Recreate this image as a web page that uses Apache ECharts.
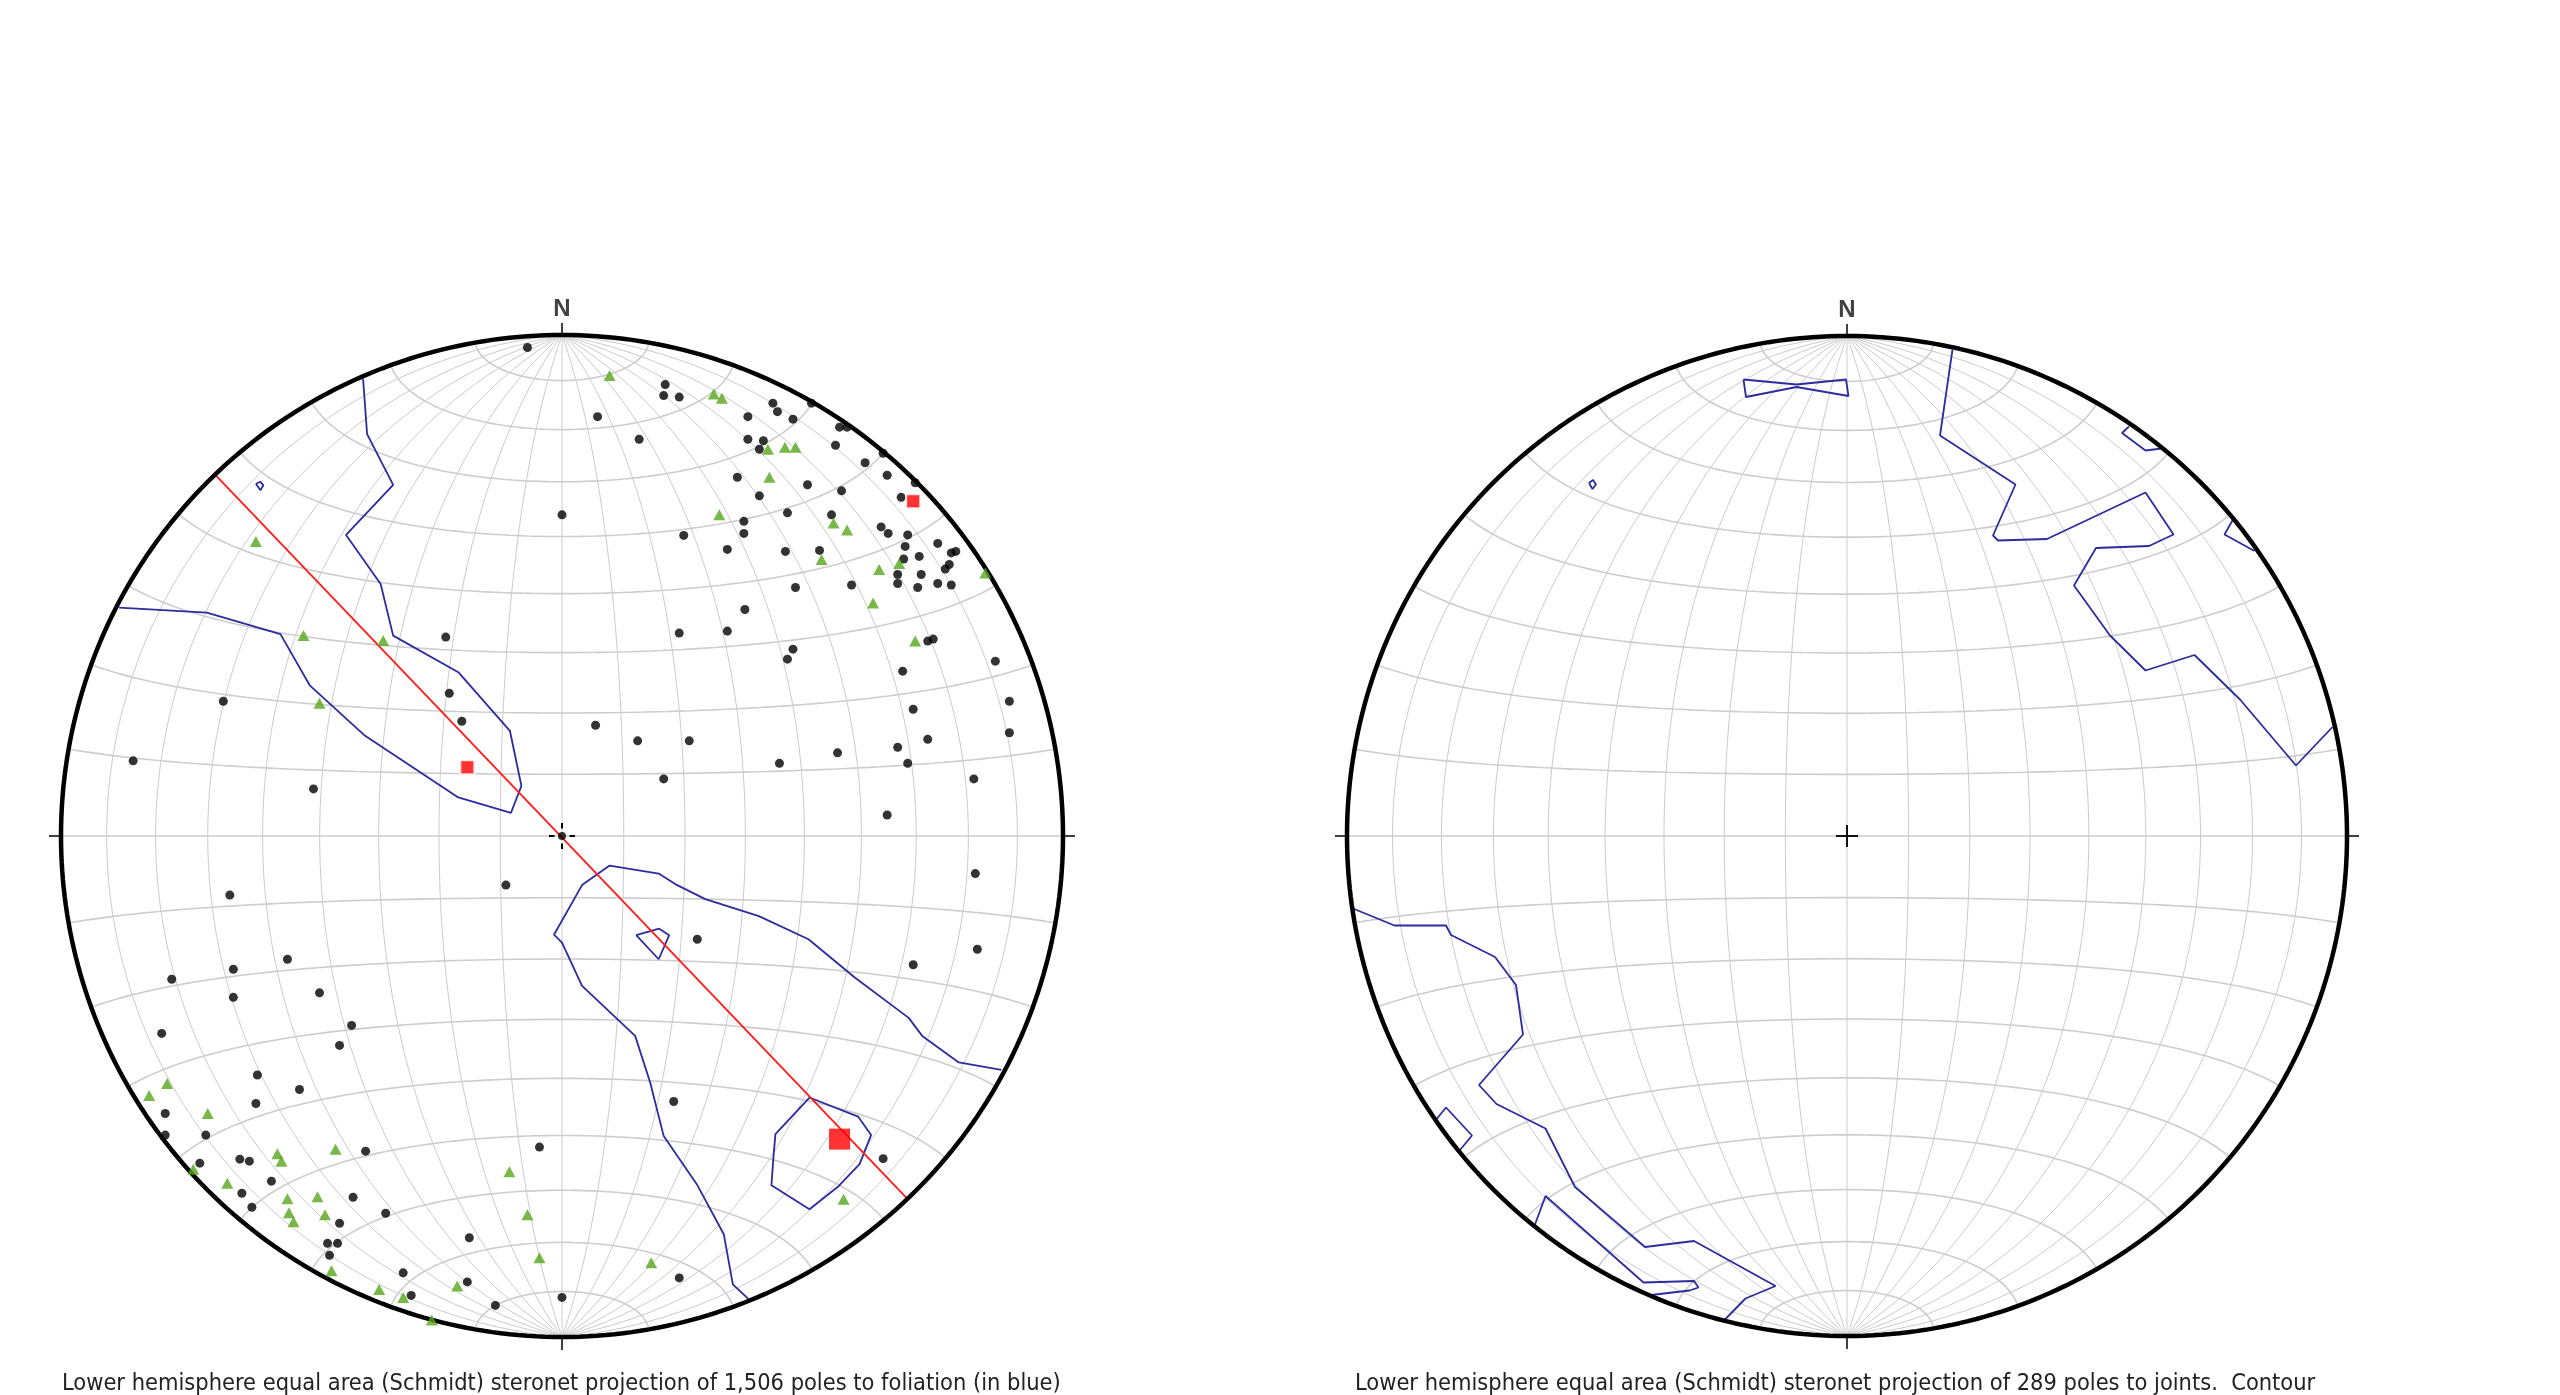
<!DOCTYPE html>
<html>
<head>
<meta charset="utf-8">
<title>Stereonets</title>
<script src="https://cdn.jsdelivr.net/npm/echarts@6/dist/echarts.min.js"></script>
<style>
html,body{margin:0;padding:0;background:#fff;}
#main{width:2560px;height:1395px;}
</style>
</head>
<body>
<div id="main"></div>
<script>
// all positions are net coordinates: primitive circle radius = 100, north up
const foliationPoles = [
  [-6.9,97.5],[0,64.1],[-23.2,39.7],[-22.5,28.5],[-20.0,22.9],[-67.6,26.9],[-85.6,15.0],[-49.6,9.4],
  [20.6,90.1],[20.3,87.9],[23.4,87.6],[7.1,83.7],[15.4,79.2],[42.1,86.4],[43.0,84.7],[49.8,86.4],
  [37.1,83.7],[46.1,83.2],[55.4,81.6],[56.9,81.6],[37.1,79.2],[40.2,78.9],[39.4,77.2],[54.6,78.0],
  [64.1,76.4],[60.5,74.5],[64.9,72.0],[70.5,70.5],[35.0,71.6],[49.0,70.1],[55.8,68.9],[39.4,67.9],
  [67.7,67.6],[45.0,64.5],[53.8,64.1],[36.3,62.8],[36.3,60.4],[63.7,61.7],[65.1,60.4],[24.3,60.0],
  [69.0,60.1],[75.0,58.4],[68.5,57.8],[77.7,56.5],[78.6,56.8],[33.0,57.2],[44.6,56.8],[51.4,57.0],
  [68.2,55.3],[71.3,55.8],[76.5,53.3],[77.3,54.2],[67.0,52.2],[71.7,52.2],[67.0,50.4],[71.0,49.6],
  [75.0,50.4],[77.7,50.1],[46.6,49.6],[57.8,50.1],[36.5,45.2],[23.4,40.5],[33.0,40.9],[46.1,37.3],
  [45.0,35.3],[73.0,38.9],[74.1,39.3],[68.0,32.9],[86.5,34.9],[70.1,25.3],[89.3,26.9],[89.3,20.6],
  [6.7,22.1],[15.1,19.0],[25.4,19.0],[55.0,16.6],[73.0,19.3],[67.0,17.7],[43.4,14.5],[69.0,14.5],
  [20.3,11.4],[82.2,11.4],[64.9,4.2],
  [-11.2,-9.8],[-66.3,-11.8],[-54.8,-24.6],[-65.6,-26.6],[-77.9,-28.6],[-65.6,-32.2],[-48.4,-31.3],
  [-42.0,-37.8],[-79.9,-39.4],[-44.4,-41.8],[-60.8,-47.7],[-52.4,-50.6],[-61.1,-53.4],[-79.2,-55.4],
  [-79.2,-59.7],[-71.1,-59.7],[-39.2,-62.9],[-4.5,-62.1],[-64.3,-64.5],[-62.4,-64.9],[-72.3,-65.3],
  [-58.0,-68.9],[-63.9,-71.3],[-61.9,-74.1],[-41.7,-72.1],[-35.2,-75.3],[-44.4,-77.3],[-46.8,-81.3],
  [-44.8,-81.3],[-46.4,-83.7],[-18.5,-80.2],[-31.7,-87.2],[-18.9,-89.0],[-30.1,-91.7],[-13.3,-93.7],
  [0,-92.1],
  [82.5,-7.5],[27.0,-20.6],[82.9,-22.6],[70.1,-25.7],[22.3,-53.0],[64.1,-64.4],[23.4,-88.2]
];

const lineations = [
  [-61.1,58.8],[-51.6,40.0],[-35.7,39.0],[-48.4,26.5],
  [9.5,91.9],[30.3,88.2],[31.9,87.4],[41.1,77.2],[44.5,77.6],[46.6,77.6],[41.4,71.6],[31.4,64.1],
  [54.2,62.5],[56.9,61.1],[51.8,55.2],[63.3,53.2],[67.3,54.4],[84.5,52.5],[62.1,46.5],[70.5,38.9],
  [-78.8,-49.4],[-82.4,-51.8],[-70.7,-55.4],[-73.6,-66.5],[-56.8,-63.4],[-56.0,-64.9],[-45.2,-62.5],
  [-66.8,-69.3],[-54.8,-72.4],[-48.8,-72.0],[-54.5,-75.2],[-53.6,-77.0],[-47.3,-75.6],[-10.5,-67.0],
  [-6.9,-75.6],[-4.5,-84.2],[-46.0,-86.8],[-36.5,-90.5],[-31.7,-92.1],[-20.9,-89.8],[-26.0,-96.6],
  [56.2,-72.5],[17.8,-85.2]
];

const smallMeans = [[-18.9,13.7],[70.1,66.8]];
const bigMeans = [[55.4,-60.5]];
const girdle = [[-69.1,72.0],[68.9,-72.4]];

const foliationContours = [
  [[-39.7,91.2],[-38.9,80.2],[-33.7,70.1],[-43.1,60.1],[-36.2,50.3],[-33.7,40.0],[-20.7,32.7],
   [-10.4,21.0],[-8.1,10.0],[-10.2,4.6],[-20.7,7.7],[-39.3,20.0],[-50.3,30.0],[-56.2,40.3],
   [-70.9,44.6],[-88.4,45.6]],
  [[87.7,-46.7],[79.2,-45.2],[71.9,-39.9],[69.2,-36.3],[58.5,-28.3],[49.2,-20.6],[39.3,-16.0],
   [28.6,-12.6],[22.6,-9.6],[19.3,-7.5],[9.5,-5.9],[4.0,-9.8],[-1.6,-19.7],[0,-21.3],[4.0,-29.9],
   [14.6,-39.9],[17.6,-49.2],[20.3,-59.9],[26.9,-69.5],[32.3,-79.5],[34.1,-89.5],[37.3,-92.5]],
  [[14.8,-19.8],[19.4,-18.5],[21.4,-19.8],[19.3,-24.6],[14.8,-19.8]],
  [[49.4,-52.2],[59.1,-56.0],[61.7,-59.7],[59.4,-65.5],[55.2,-69.9],[49.4,-74.5],[41.8,-69.7],
   [42.2,-64.2],[42.6,-59.5],[49.4,-52.2]],
  [[-61.1,70.3],[-60.2,70.7],[-59.6,70.0],[-60.2,69.0],[-61.1,70.3]]
];

const jointContours = [
  [[21.1,97.3],[18.6,80.1],[33.7,70.3],[29.2,60.1],[30.2,59.1],[40.0,59.4],[59.7,68.7],[65.3,60.3],
   [60.4,58.0],[49.8,57.6],[45.4,50.1],[52.6,40.1],[59.7,33.1],[69.5,36.2],[78.6,27.3],[89.8,14.1],
   [97.1,21.8]],
  [[-20.7,91.3],[-10.1,90.3],[-0.2,91.3],[0.3,88.0],[-10.1,89.8],[-20.2,87.8],[-20.7,91.3]],
  [[-51.6,70.6],[-50.8,71.2],[-50.2,70.3],[-50.9,69.4],[-51.6,70.6]],
  [[56.4,81.9],[55.0,80.6],[59.7,77.1],[62.9,77.5]],
  [[77.2,63.3],[75.5,60.3],[81.5,57.0]],
  [[-99.3,-14.3],[-90.5,-17.9],[-80.2,-17.9],[-79.2,-19.8],[-70.4,-24.2],[-66.2,-29.8],[-64.8,-39.7],
   [-73.6,-49.8],[-70.1,-53.6],[-60.3,-58.5],[-54.4,-70.2],[-41.8,-81.0],[-40.4,-82.2],[-30.6,-81.0],
   [-14.3,-90.0],[-20.3,-92.5],[-24.5,-96.8]],
  [[-82.0,-56.5],[-80.2,-54.3],[-75.0,-59.9],[-77.4,-62.8]],
  [[-62.4,-77.7],[-60.3,-72.0],[-40.7,-89.3],[-30.6,-89.0],[-29.7,-90.3],[-31.5,-90.9],[-39.2,-91.8]]
];

const captionLeft = 'Lower hemisphere equal area (Schmidt) steronet projection of 1,506 poles to foliation (in blue)';
const captionRight = 'Lower hemisphere equal area (Schmidt) steronet projection of 289 poles to joints.  Contour';

const chart = echarts.init(document.getElementById('main'));

// Lambert equal-area, equatorial aspect, scaled to radius 100
function proj(lat, lon) {
  const p = lat * Math.PI / 180, l = lon * Math.PI / 180;
  const k = Math.sqrt(2 / (1 + Math.cos(p) * Math.cos(l))) / Math.SQRT2 * 100;
  return [k * Math.cos(p) * Math.sin(l), k * Math.sin(p)];
}

function line(gi, pts, color, width, z) {
  return {
    type: 'line', xAxisIndex: gi, yAxisIndex: gi, data: pts, symbol: 'none',
    clip: false, silent: true, z: z || 2,
    lineStyle: { color: color, width: width }
  };
}

function netSeries(gi) {
  const out = [];
  for (let lon = -80; lon <= 80; lon += 10) {
    const pts = [];
    for (let lat = -90; lat <= 90; lat += 2) pts.push(proj(lat, lon));
    out.push(line(gi, pts, '#cbcbcb', 1, 1));
  }
  for (let lat = -80; lat <= 80; lat += 10) {
    const pts = [];
    for (let lon = -90; lon <= 90; lon += 2) pts.push(proj(lat, lon));
    out.push(line(gi, pts, '#cdcdcd', 1.6, 1));
  }
  const rim = [];
  for (let a = 0; a <= 360; a += 1) rim.push([100 * Math.cos(a * Math.PI / 180), 100 * Math.sin(a * Math.PI / 180)]);
  out.push(line(gi, rim, '#000', 4.5, 5));
  // N, S, E, W ticks
  out.push(line(gi, [[0, 100], [0, 102.4]], '#000', 1.5, 5));
  out.push(line(gi, [[0, -100], [0, -102.6]], '#000', 1.5, 5));
  out.push(line(gi, [[100, 0], [102.4, 0]], '#000', 1.5, 5));
  out.push(line(gi, [[-100, 0], [-102.4, 0]], '#000', 1.5, 5));
  out.push({
    type: 'scatter', xAxisIndex: gi, yAxisIndex: gi, data: [[0, 105.2]], symbolSize: 1,
    itemStyle: { color: 'rgba(0,0,0,0)' }, silent: true, z: 6,
    label: { show: true, position: 'inside', formatter: 'N', color: '#111', fontSize: 24,
      fontWeight: 'bold', fontFamily: 'Liberation Sans, Arial, sans-serif' }
  });
  return out;
}

const series = [];
series.push(...netSeries(0), ...netSeries(1));

foliationContours.forEach(c => series.push(line(0, c, '#2c2c9e', 1.8, 3)));
jointContours.forEach(c => series.push(line(1, c, '#2c2c9e', 1.8, 3)));
series.push(line(0, girdle, '#ff1a1a', 1.8, 4));

// centre marks
series.push(line(0, [[0, 1.5], [0, 2.6]], '#000', 2, 5));
series.push(line(0, [[0, -1.5], [0, -2.6]], '#000', 2, 5));
series.push(line(0, [[1.5, 0], [2.6, 0]], '#000', 2, 5));
series.push(line(0, [[-1.5, 0], [-2.6, 0]], '#000', 2, 5));
series.push({ type: 'scatter', xAxisIndex: 0, yAxisIndex: 0, data: [[0, 0]], symbolSize: 8,
  itemStyle: { color: '#000' }, silent: true, z: 5 });
series.push(line(1, [[-2.2, 0], [2.2, 0]], '#111', 2, 5));
series.push(line(1, [[0, -2.2], [0, 2.2]], '#111', 2, 5));

series.push({ type: 'scatter', xAxisIndex: 0, yAxisIndex: 0, data: foliationPoles, symbol: 'circle',
  symbolSize: 9, itemStyle: { color: '#000' }, silent: true, z: 6 });
series.push({ type: 'scatter', xAxisIndex: 0, yAxisIndex: 0, data: lineations, symbol: 'triangle',
  symbolSize: [12, 11], itemStyle: { color: '#56a61c' }, silent: true, z: 7 });
series.push({ type: 'scatter', xAxisIndex: 0, yAxisIndex: 0, data: smallMeans, symbol: 'rect',
  symbolSize: 14, itemStyle: { color: '#ff0000', borderColor: '#fff', borderWidth: 2 }, silent: true, z: 8 });
series.push({ type: 'scatter', xAxisIndex: 0, yAxisIndex: 0, data: bigMeans, symbol: 'rect',
  symbolSize: 21, itemStyle: { color: '#ff0000' }, silent: true, z: 8 });

function axis(gi) {
  return { type: 'value', gridIndex: gi, min: -110, max: 110, show: false };
}

const captionFont = "23.4px 'Liberation Sans Narrow', 'DejaVu Sans Condensed', sans-serif";

chart.setOption({
  animation: false,
  backgroundColor: '#fff',
  grid: [
    { left: 10.9, top: 284.9, width: 1102.2, height: 1102.2 },
    { left: 1297, top: 286, width: 1100, height: 1100 }
  ],
  xAxis: [axis(0), axis(1)],
  yAxis: [axis(0), axis(1)],
  graphic: [
    { type: 'text', left: 62, top: 1372, style: { text: captionLeft, fill: '#222', font: captionFont } },
    { type: 'text', left: 1355, top: 1372, style: { text: captionRight, fill: '#222', font: captionFont } }
  ],
  series: series
});
</script>
</body>
</html>
